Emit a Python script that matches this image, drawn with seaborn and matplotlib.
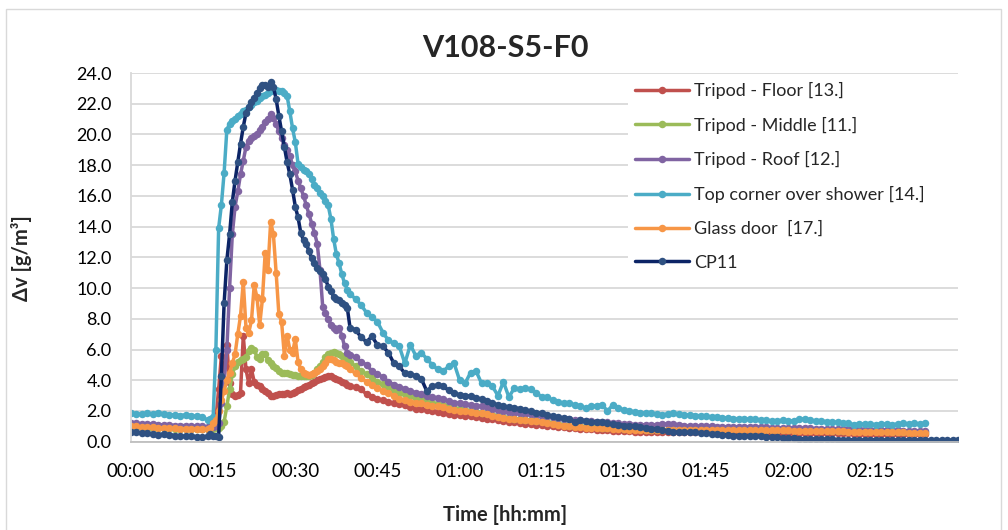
import matplotlib
matplotlib.use("Agg")
import matplotlib.pyplot as plt
import seaborn as sns
import pandas as pd
from matplotlib.patches import Rectangle

# ---------------- data (Δv in g/m³) ----------------
# each series in three parts: a = t 0..13 min (1 min), b = t 14..40 min (0.5 min), c = t 41.. min (1 min)
labels = ["Tripod - Floor [13.]", "Tripod - Middle [11.]", "Tripod - Roof [12.]",
          "Top corner over shower [14.]", "Glass door  [17.]", "CP11"]

red_a = [1.05, 1.05, 1.0, 1.0, 1.0, 1.0, 0.95, 0.95, 0.95, 0.9, 0.9, 0.9, 0.9, 0.85]
red_b = [0.85, 0.85, 0.9, 1.5, 3.4, 5.6, 4.0, 6.3, 3.8, 3.1,
         3.0, 3.05, 3.2, 6.9, 4.7, 3.8, 4.7, 3.9, 3.7, 3.6,
         3.4, 3.3, 3.15, 3.0, 2.95, 3.05, 3.1, 3.1, 3.1, 3.15,
         3.1, 3.15, 3.25, 3.35, 3.45, 3.55, 3.6, 3.7, 3.8, 3.9,
         4.0, 4.05, 4.15, 4.2, 4.3, 4.3, 4.15, 4.1, 4.0, 3.9,
         3.8, 3.7, 3.65]
red_c = [3.55, 3.4, 3.1, 2.9, 2.8, 2.7, 2.6, 2.5, 2.45, 2.4,
         2.25, 2.15, 2.1, 2.05, 2.0, 1.95, 1.9, 1.8, 1.75, 1.72,
         1.68, 1.65, 1.6, 1.55, 1.5, 1.45, 1.38, 1.32, 1.28, 1.25,
         1.2, 1.17, 1.13, 1.1, 1.07, 1.03, 1.0, 0.96, 0.93, 0.9,
         0.87, 0.85, 0.83, 0.8, 0.78, 0.76, 0.74, 0.72, 0.7, 0.68,
         0.67, 0.66, 0.65, 0.64, 0.63, 0.62, 0.61, 0.6, 0.6, 0.6,
         0.6, 0.6, 0.6, 0.6, 0.6, 0.6, 0.6, 0.6, 0.6, 0.6,
         0.58, 0.58, 0.58, 0.58, 0.58, 0.57, 0.57, 0.57, 0.56, 0.56,
         0.56, 0.56, 0.55, 0.55, 0.55, 0.55, 0.55, 0.54, 0.54, 0.54,
         0.54, 0.53, 0.53, 0.53, 0.52, 0.52, 0.52, 0.52, 0.51, 0.51,
         0.51, 0.5, 0.5, 0.5, 0.5]

green_a = [0.95, 0.95, 0.95, 0.9, 0.9, 0.9, 0.9, 0.9, 0.85, 0.85, 0.85, 0.85, 0.85, 0.85]
green_b = [0.85, 0.85, 0.85, 0.9, 0.9, 1.0, 1.3, 2.3, 3.4, 4.4,
           4.9, 5.2, 5.3, 5.4, 5.5, 5.9, 6.1, 6.0, 5.5, 5.4,
           5.7, 5.7, 5.3, 5.1, 4.95, 4.8, 4.6, 4.5, 4.45, 4.45,
           4.4, 4.35, 4.35, 4.3, 4.3, 4.25, 4.25, 4.25, 4.35, 4.45,
           4.7, 4.9, 5.2, 5.5, 5.7, 5.8, 5.85, 5.8, 5.7, 5.6,
           5.55, 5.35, 5.2]
green_c = [4.9, 4.6, 4.4, 4.15, 3.9, 3.75, 3.55, 3.35, 3.2, 3.1,
           2.95, 2.85, 2.75, 2.65, 2.55, 2.45, 2.38, 2.3, 2.2, 2.12,
           2.05, 2.0, 1.95, 1.9, 1.85, 1.75, 1.67, 1.6, 1.55, 1.5,
           1.47, 1.44, 1.4, 1.36, 1.32, 1.25, 1.2, 1.15, 1.1, 1.05,
           1.02, 1.0, 0.97, 0.95, 0.93, 0.92, 0.9, 0.88, 0.86, 0.84,
           0.82, 0.81, 0.8, 0.79, 0.79, 0.78, 0.78, 0.78, 0.78, 0.78,
           0.78, 0.78, 0.78, 0.78, 0.78, 0.78, 0.78, 0.78, 0.78, 0.78,
           0.77, 0.77, 0.77, 0.77, 0.77, 0.76, 0.76, 0.76, 0.76, 0.76,
           0.75, 0.75, 0.75, 0.74, 0.74, 0.73, 0.73, 0.72, 0.72, 0.71,
           0.7, 0.7, 0.69, 0.69, 0.68, 0.68, 0.67, 0.67, 0.66, 0.66,
           0.65, 0.65, 0.64, 0.64, 0.63]

purple_a = [1.2, 1.2, 1.15, 1.15, 1.15, 1.1, 1.1, 1.1, 1.05, 1.05, 1.05, 1.0, 1.0, 1.0]
purple_b = [0.95, 1.0, 0.95, 1.0, 1.2, 2.5, 4.0, 6.0, 10.0, 13.5,
            15.3, 16.3, 17.4, 18.3, 19.2, 19.6, 19.8, 19.9, 20.0, 20.3,
            20.5, 20.8, 21.0, 21.3, 21.1, 20.7, 20.2, 19.8, 19.3, 19.0,
            18.6, 18.0, 17.6, 17.0, 16.5, 16.0, 15.4, 14.8, 14.2, 13.6,
            12.9, 11.2, 8.8, 8.4, 8.0, 7.6, 7.4, 7.3, 7.4, 6.9,
            6.2, 5.8, 5.65]
purple_c = [5.5, 5.2, 5.0, 4.6, 4.4, 4.2, 3.9, 3.7, 3.55, 3.45,
            3.3, 3.2, 3.1, 3.0, 2.9, 2.85, 2.75, 2.65, 2.55, 2.5,
            2.45, 2.4, 2.35, 2.3, 2.25, 2.15, 2.05, 2.0, 1.95, 1.9,
            1.85, 1.8, 1.8, 1.75, 1.7, 1.65, 1.6, 1.55, 1.5, 1.45,
            1.4, 1.4, 1.35, 1.35, 1.3, 1.3, 1.25, 1.2, 1.2, 1.15,
            1.15, 1.1, 1.1, 1.1, 1.1, 1.1, 1.15, 1.15, 1.15, 1.1,
            1.05, 1.0, 1.0, 1.0, 1.0, 1.0, 0.98, 0.98, 0.97, 0.97,
            0.96, 0.96, 0.95, 0.95, 0.95, 0.93, 0.92, 0.91, 0.9, 0.9,
            0.89, 0.88, 0.87, 0.86, 0.85, 0.85, 0.84, 0.83, 0.82, 0.82,
            0.81, 0.8, 0.8, 0.79, 0.78, 0.77, 0.76, 0.75, 0.74, 0.73,
            0.72, 0.71, 0.7, 0.7, 0.7]

cyan_a = [1.85, 1.8, 1.8, 1.85, 1.8, 1.9, 1.8, 1.75, 1.75, 1.7, 1.75, 1.7, 1.65, 1.6]
cyan_b = [1.4, 1.5, 1.6, 6.0, 13.9, 15.4, 17.5, 20.3, 20.7, 20.9,
          21.0, 21.2, 21.3, 21.5, 21.6, 21.8, 21.9, 22.1, 22.2, 22.4,
          22.5, 22.6, 22.7, 22.8, 22.9, 22.9, 22.8, 22.8, 22.7, 22.5,
          21.5, 20.4, 19.5, 18.1, 17.9, 17.7, 17.6, 17.4, 17.1, 16.7,
          16.5, 16.2, 16.0, 15.7, 15.4, 14.5, 13.2, 12.2, 11.6, 10.9,
          10.3, 9.9, 9.6]
cyan_c = [9.3, 8.9, 8.4, 8.1, 7.8, 7.1, 6.6, 6.4, 6.2, 5.1,
          6.3, 5.6, 5.8, 5.4, 5.0, 4.7, 4.6, 4.9, 5.1, 4.0,
          3.8, 4.5, 4.6, 3.8, 3.8, 3.6, 3.0, 3.9, 2.9, 3.5,
          3.4, 3.5, 3.4, 3.2, 2.9, 2.9, 2.7, 2.6, 2.5, 2.5,
          2.4, 2.3, 2.2, 2.3, 2.35, 2.4, 2.0, 2.4, 2.2, 2.05,
          2.0, 1.95, 1.9, 1.85, 1.85, 1.8, 1.75, 1.8, 1.85, 1.8,
          1.75, 1.75, 1.7, 1.7, 1.65, 1.6, 1.6, 1.55, 1.55, 1.5,
          1.5, 1.5, 1.45, 1.45, 1.4, 1.4, 1.35, 1.35, 1.4, 1.35,
          1.35, 1.45, 1.5, 1.4, 1.35, 1.35, 1.3, 1.3, 1.25, 1.2,
          1.2, 1.1, 1.15, 1.15, 1.15, 1.1, 1.15, 1.15, 1.1, 1.15,
          1.2, 1.15, 1.2, 1.15, 1.2]

orange_a = [1.0, 1.0, 0.95, 0.95, 0.95, 0.9, 0.9, 0.9, 0.9, 0.85, 0.85, 0.85, 0.85, 0.8]
orange_b = [0.8, 0.9, 1.2, 1.4, 2.0, 2.7, 3.3, 4.0, 4.5, 5.1,
            5.7, 7.0, 8.2, 10.4, 7.4, 7.1, 7.9, 10.2, 9.4, 7.6,
            9.3, 12.3, 11.2, 14.3, 13.5, 11.0, 8.3, 7.8, 5.6, 6.9,
            6.0, 5.8, 6.7, 5.2, 4.7, 4.5, 4.4, 4.35, 4.4, 4.5,
            4.6, 4.7, 4.9, 5.1, 5.4, 5.4, 5.3, 5.2, 5.1, 5.1,
            5.0, 4.9, 4.7]
orange_c = [4.45, 4.15, 3.9, 3.7, 3.5, 3.3, 3.15, 3.0, 2.8, 2.7,
            2.6, 2.55, 2.5, 2.4, 2.35, 2.3, 2.25, 2.15, 2.05, 2.0,
            1.98, 1.95, 1.9, 1.85, 1.8, 1.7, 1.6, 1.55, 1.5, 1.45,
            1.42, 1.4, 1.35, 1.32, 1.28, 1.2, 1.15, 1.1, 1.05, 1.0,
            0.98, 0.95, 0.92, 0.9, 0.88, 0.87, 0.86, 0.84, 0.82, 0.8,
            0.78, 0.77, 0.76, 0.75, 0.75, 0.75, 0.75, 0.75, 0.75, 0.75,
            0.75, 0.76, 0.76, 0.76, 0.76, 0.76, 0.76, 0.76, 0.76, 0.76,
            0.76, 0.76, 0.75, 0.75, 0.75, 0.75, 0.74, 0.74, 0.73, 0.73,
            0.72, 0.72, 0.71, 0.71, 0.7, 0.7, 0.69, 0.68, 0.68, 0.67,
            0.66, 0.66, 0.65, 0.64, 0.64, 0.63, 0.62, 0.62, 0.61, 0.6,
            0.6, 0.59, 0.58, 0.58, 0.57]

cp11_a = [0.6, 0.6, 0.55, 0.55, 0.5, 0.45, 0.5, 0.45, 0.4, 0.35, 0.35, 0.4, 0.3, 0.3]
cp11_b = [0.35, 0.5, 0.35, 0.4, 0.3, 4.3, 9.0, 11.8, 13.5, 15.6,
          17.0, 18.2, 19.4, 20.5, 21.4, 21.8, 22.1, 22.4, 22.7, 23.0,
          23.2, 23.2, 23.1, 23.4, 23.1, 22.3, 21.2, 20.2, 19.2, 18.2,
          17.4, 16.4, 15.3, 14.6, 13.6, 13.1, 12.9, 12.4, 11.95, 11.6,
          11.3, 11.1, 10.9, 10.6, 10.1, 9.8, 9.45, 9.3, 9.2, 9.05,
          8.9, 8.7, 7.4]
cp11_c = [7.3, 6.8, 6.5, 6.85, 6.3, 6.2, 5.8, 5.1, 4.9, 4.45,
          4.4, 4.3, 4.1, 3.3, 3.6, 3.7, 3.6, 3.35, 3.15, 3.05,
          3.0, 2.95, 2.85, 2.75, 2.65, 2.5, 2.4, 2.3, 2.25, 2.2,
          2.15, 2.05, 2.0, 1.9, 1.85, 1.75, 1.65, 1.6, 1.55, 1.5,
          1.25, 1.4, 1.35, 1.3, 1.3, 1.25, 1.2, 1.15, 1.1, 1.05,
          1.0, 1.0, 0.95, 0.9, 0.85, 0.8, 0.75, 0.7, 0.65, 0.6,
          0.6, 0.6, 0.6, 0.55, 0.55, 0.5, 0.5, 0.45, 0.45, 0.4,
          0.4, 0.4, 0.35, 0.35, 0.35, 0.3, 0.3, 0.3, 0.25, 0.25,
          0.25, 0.2, 0.2, 0.2, 0.15, 0.15, 0.15, 0.15, 0.12, 0.12,
          0.12, 0.12, 0.1, 0.1, 0.12, 0.12, 0.1, 0.1, 0.1, 0.1,
          0.1, 0.1, 0.12, 0.1, 0.1, 0.1, 0.08, 0.08, 0.1, 0.08, 0.08]

xtick_minutes = [0, 15, 30, 45, 60, 75, 90, 105, 120, 135]
xtick_labels = ["00:00", "00:15", "00:30", "00:45", "01:00", "01:15", "01:30", "01:45", "02:00", "02:15"]
ytick_values = [0, 2, 4, 6, 8, 10, 12, 14, 16, 18, 20, 22, 24]

line_colors = ["#C0504D", "#9BBB59", "#8064A2", "#4BACC6", "#F79646", "#0C2466"]
marker_colors = ["#C0504D", "#9BBB59", "#8064A2", "#4BACC6", "#F79646", "#2F5182"]


def minutes(a, b, c):
    return ([float(i) for i in range(len(a))]
            + [14 + 0.5 * i for i in range(len(b))]
            + [41.0 + i for i in range(len(c))])


parts = [(red_a, red_b, red_c), (green_a, green_b, green_c), (purple_a, purple_b, purple_c),
         (cyan_a, cyan_b, cyan_c), (orange_a, orange_b, orange_c), (cp11_a, cp11_b, cp11_c)]

frames = []
for lab, (a, b, c) in zip(labels, parts):
    frames.append(pd.DataFrame({"t": minutes(a, b, c), "v": a + b + c, "series": lab}))
df = pd.concat(frames, ignore_index=True)

# ---------------- figure ----------------
sns.set_theme(style="white")
plt.rcParams['font.family'] = ['Lato', 'DejaVu Sans']

W, H = 1008, 530
fig = plt.figure(figsize=(W / 100, H / 100), dpi=100)
fig.patch.set_facecolor("white")
fig.add_artist(Rectangle((6 / W, -0.01), 995 / W, 1 - 9 / H + 0.01, transform=fig.transFigure,
                         fill=False, edgecolor="#D9D9D9", lw=1.0))

ax = fig.add_axes([131 / W, 1 - 441.7 / H, (958 - 131) / W, (441.7 - 73) / H])

for lab, lc, mc in zip(labels, line_colors, marker_colors):
    sub = df[df["series"] == lab]
    sns.lineplot(data=sub, x="t", y="v", ax=ax, color=lc, lw=2.5, marker="o", markersize=5.4,
                 markerfacecolor=mc, markeredgecolor=mc, markeredgewidth=0,
                 label=lab, estimator=None, sort=False)

ax.set_xlim(0, 151)
ax.set_ylim(0, 24)
ax.set_xticks(xtick_minutes)
ax.set_xticklabels(xtick_labels)
ax.set_yticks(ytick_values)
ax.set_yticklabels([f"{v:.1f}" for v in ytick_values])
ax.tick_params(axis="both", length=0, colors="black")
ax.tick_params(axis="x", labelsize=13.5, pad=15)
ax.tick_params(axis="y", labelsize=13, pad=14)
ax.grid(axis="y", color="#D9D9D9", lw=1.3)
ax.grid(axis="x", visible=False)
for s in ["top", "right"]:
    ax.spines[s].set_visible(False)
ax.spines["left"].set_color("#D9D9D9")
ax.spines["bottom"].set_color("#BFBFBF")
ax.spines["left"].set_linewidth(1.3)
ax.spines["bottom"].set_linewidth(1.3)
ax.set_axisbelow(True)

ax.set_xlabel("")
ax.set_ylabel("")
fig.text(505 / W, 1 - 515 / H, "Time [hh:mm]", ha="center", va="center", fontsize=14.5, fontweight="bold")
fig.text(21 / W, 1 - 258 / H, "Δv [g/m³]", ha="center", va="center", rotation=90,
         fontsize=14.5, fontweight="bold")
fig.text(505 / W, 1 - 48 / H, "V108-S5-F0", ha="center", va="center", fontsize=22, fontweight="bold")

leg = ax.legend(loc="upper left", bbox_to_anchor=(628 / W, 1 - 80 / H, 362 / W, 0.01),
                bbox_transform=fig.transFigure, mode="expand", ncol=1,
                frameon=True, facecolor="white", edgecolor="white", framealpha=1,
                fontsize=13, handlelength=3.0, handletextpad=0.25, labelspacing=0.98,
                borderpad=0.4, borderaxespad=0)
leg.get_frame().set_linewidth(0)

fig.savefig("out.png", dpi=100, facecolor="white")
